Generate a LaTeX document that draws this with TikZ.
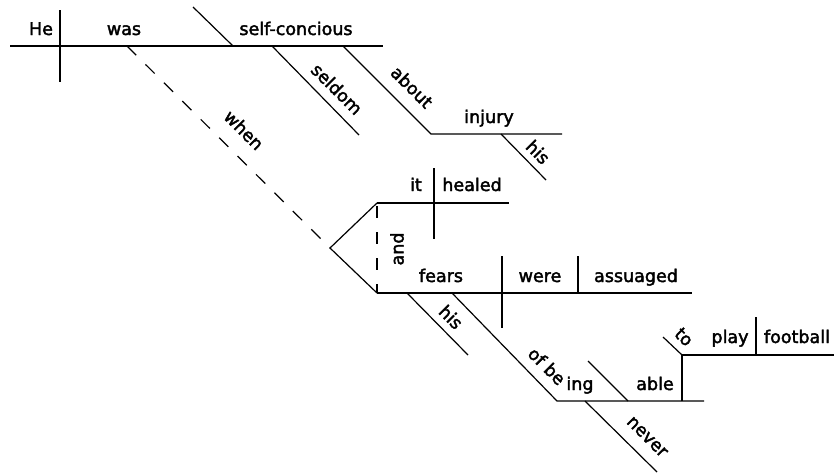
\documentclass[tikz,border=0pt]{standalone}
\usepackage{fontspec}
\setmainfont{DejaVu Sans}[FakeBold=2.2]
\begin{document}
\begin{tikzpicture}[x=1pt,y=-1pt,
  rule/.style={line width=1.2pt,black},
  dashrule/.style={rule,dash pattern=on 13pt off 13pt},
  word/.style={inner sep=0pt,anchor=base,font=\fontsize{17.5}{20}\selectfont},
  slantword/.style={inner sep=0pt,anchor=center,rotate=-45,font=\fontsize{17.5}{20}\selectfont},
  upword/.style={inner sep=0pt,anchor=center,rotate=90,font=\fontsize{17.5}{20}\selectfont}]
\useasboundingbox (0,0) rectangle (834,474);

% main clause: He was self-concious
\coordinate (mL) at (10,46);   \coordinate (mR) at (383,46);
\coordinate (dvT) at (60,10);  \coordinate (dvB) at (60,82);
\coordinate (pcT) at (193,7);  \coordinate (pcB) at (233,46);
\draw[rule] (mL) -- (mR);
\draw[rule] (dvT) -- (dvB);
\draw[rule] (pcT) -- (pcB);
\node[word] (he) at (41,35) {He};
\node[word] (was) at (124,35) {was};
\node[word] (selfc) at (296,35) {self-concious};

% seldom
\coordinate (sdA) at (272,46); \coordinate (sdB) at (359,135);
\draw[rule] (sdA) -- (sdB);
\node[slantword] (seldom) at (337,89) {seldom};

% about injury, his
\coordinate (abA) at (343,46); \coordinate (abB) at (431,134);
\coordinate (injR) at (562,134);
\draw[rule] (abA) -- (abB) -- (injR);
\node[slantword] (about) at (412,87) {about};
\node[word] (injury) at (489,123) {injury};
\coordinate (hsA) at (501,134); \coordinate (hsB) at (546,180);
\draw[rule] (hsA) -- (hsB);
\node[slantword] (his1) at (538,152) {his};

% when (dashed connector to the compound clause)
\coordinate (wA) at (127,46); \coordinate (fork) at (330,248);
\draw[dashrule] (wA) -- (fork);
\node[slantword] (when) at (244,130) {when};

% compound clause fork and "and"
\coordinate (uL) at (377,203); \coordinate (lL) at (377,293);
\draw[rule] (uL) -- (fork) -- (lL);
\draw[rule,dash pattern=on 12pt off 14pt,dash phase=-3pt] (uL) -- (lL);
\node[upword] (and) at (397,249) {and};

% it healed
\coordinate (uR) at (509,203);
\coordinate (itT) at (434,168); \coordinate (itB) at (434,239);
\draw[rule] (uL) -- (uR);
\draw[rule] (itT) -- (itB);
\node[word] (it) at (416,191) {it};
\node[word] (healed) at (472,191) {healed};

% fears were assuaged
\coordinate (lR) at (692,293);
\coordinate (fwT) at (502,256); \coordinate (fwB) at (502,328);
\coordinate (waT) at (578,256); \coordinate (waB) at (578,293);
\draw[rule] (lL) -- (lR);
\draw[rule] (fwT) -- (fwB);
\draw[rule] (waT) -- (waB);
\node[word] (fears) at (441,282) {fears};
\node[word] (were) at (540,282) {were};
\node[word] (assuaged) at (636,282) {assuaged};

% his (modifier of fears)
\coordinate (h2A) at (407,293); \coordinate (h2B) at (468,355);
\draw[rule] (h2A) -- (h2B);
\node[slantword] (his2) at (451,317) {his};

% of being able
\coordinate (ofA) at (452,293); \coordinate (ofB) at (557,401);
\coordinate (gR) at (704,401);
\draw[rule] (ofA) -- (ofB) -- (gR);
\node[slantword] (ofbe) at (547,366) {of be};
\node[word] (ing) at (580,390) {ing};
\coordinate (ibA) at (588,361); \coordinate (ibB) at (628,401);
\draw[rule] (ibA) -- (ibB);
\node[word] (able) at (655,390) {able};

% never
\coordinate (nvA) at (585,401); \coordinate (nvB) at (657,472);
\draw[rule] (nvA) -- (nvB);
\node[slantword] (never) at (647,437) {never};

% to play football
\coordinate (abl) at (682,401); \coordinate (infL) at (682,355);
\coordinate (infR) at (834,355);
\coordinate (toA) at (663,337);
\draw[rule] (abl) -- (infL) -- (infR);
\draw[rule] (toA) -- (infL);
\node[slantword] (to) at (684,337) {to};
\coordinate (pfT) at (756,317); \coordinate (pfB) at (756,355);
\draw[rule] (pfT) -- (pfB);
\node[word] (play) at (730,343) {play};
\node[word] (football) at (797,343) {football};
\end{tikzpicture}
\end{document}
